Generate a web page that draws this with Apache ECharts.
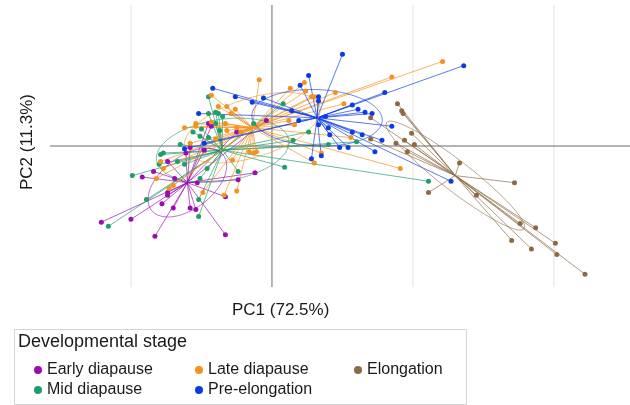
<!DOCTYPE html>
<html>
<head>
<meta charset="utf-8">
<script src="https://cdn.jsdelivr.net/npm/echarts@6/dist/echarts.min.js"></script>
<style>
  html, body { margin: 0; padding: 0; background: #fff; }
  #chart { width: 630px; height: 405px; }
</style>
</head>
<body>
<div id="chart"></div>
<script>
// PCA scores (PC1, PC2)
const groups = ['Early diapause', 'Mid diapause', 'Late diapause', 'Pre-elongation', 'Elongation']
const colors = ['#9a0dae', '#1e9e6b', '#f5921e', '#0a3be6', '#8d6a44']

const earlyPts = [
  [-12.1, -5.4], [-10.0, -5.2], [-8.3, -6.4], [-3.3, -6.3], [-3.3, -3.6], [-5.4, -4.5],
  [-5.8, -4.4], [-7.0, -4.4], [-7.8, -4.1], [-7.4, -3.5], [-7.4, -3.3], [-9.2, -2.2],
  [-8.4, -1.8], [-7.4, -1.1], [-6.9, -2.3], [-5.3, -2.6], [-2.4, -2.4], [-1.2, -1.9],
  [-5.8, -0.1], [-4.8, -0.3], [-4.5, 1.6], [-4.3, 1.4], [-2.5, 1.0], [-0.4, 1.8], [-6.1, -0.5]
]
const midPts = [
  [-11.6, -5.7], [-9.9, -2.1], [-8.9, -3.8], [-5.2, -5.0], [-5.2, -3.8], [-8.0, -1.3],
  [-7.9, -0.6], [-7.7, -0.5], [-6.5, 0.1], [-6.7, -1.1], [-6.2, -1.3], [-2.4, -1.8],
  [-5.1, -2.3], [-4.6, -1.6], [-4.5, 3.5], [-4.5, 2.3], [-4.0, 2.4], [-3.8, 2.3],
  [-3.5, 2.1], [-5.6, 1.0], [-5.0, 1.2], [-5.1, 0.7], [-4.5, 0.6], [-3.7, 1.1],
  [-4.0, 1.6], [0.8, 3.0], [2.6, 1.0], [1.5, 0.4], [4.0, 0.1], [6.0, 0.3],
  [0.9, -1.5], [-1.3, 1.6], [11.1, -2.5]
]
const latePts = [
  [-2.5, -3.2], [-4.9, -3.3], [-8.2, -2.3], [-7.9, -1.1], [-7.7, -1.6], [-5.8, 0.2],
  [-2.8, -1.0], [-7.3, -3.0], [-7.0, -2.8], [-0.9, 4.7], [-4.3, 3.6], [-3.2, 2.8],
  [-2.6, 2.6], [-3.8, 2.8], [-2.9, 2.3], [-6.2, 1.3], [-5.4, 1.6], [-5.4, 1.4],
  [-3.3, 1.6], [-2.5, 1.3], [-3.2, 1.1], [-2.2, 1.0], [-4.0, 0.5], [-1.6, -0.4],
  [-1.1, -0.4], [-4.3, 1.7], [1.3, 4.1], [2.3, 4.5], [2.4, 3.9], [2.8, 3.5],
  [3.0, 3.5], [4.5, 3.8], [5.1, 3.0], [1.2, 1.8], [1.6, 1.5], [5.6, 0.6],
  [3.5, -0.5], [3.0, -1.2], [-1.3, -0.5], [12.1, 6.0], [8.5, 4.9], [9.1, -1.6], [-3.4, -3.5]
]
const prePts = [
  [5.0, 6.5], [2.6, 5.0], [2.0, 4.3], [3.3, 3.5], [3.3, 3.2], [-1.4, 3.1],
  [-0.6, 3.4], [1.4, 2.5], [1.9, 1.8], [3.8, 2.1], [4.0, 1.3], [3.3, 1.5],
  [4.1, 0.8], [5.7, 2.9], [6.1, 2.6], [6.6, 2.4], [5.7, 1.0], [4.8, -0.1],
  [5.4, -0.1], [2.8, -0.9], [3.5, -0.7], [6.4, 0.8], [-4.2, 4.1], [-2.6, 3.5],
  [-5.2, 2.3], [-6.2, -0.2], [-4.8, 0.2], [13.6, 5.7], [8.0, 3.8], [7.1, 2.3],
  [8.5, 1.4], [7.8, 0.4], [7.3, -0.4], [12.7, -2.5]
]
const elongPts = [
  [8.9, 3.0], [9.2, 2.5], [9.3, 2.3], [9.9, 0.9], [9.4, 0.4], [10.1, 0.1],
  [8.8, 0.2], [9.6, -0.4], [13.3, -1.2], [11.1, -3.3], [17.2, -2.6], [14.5, -3.5],
  [17.6, -5.5], [18.7, -5.8], [17.0, -6.7], [18.4, -7.3], [20.1, -6.9], [20.2, -7.7],
  [22.2, -9.1], [7.0, 2.0], [7.0, 0.5]
]
const points = [earlyPts, midPts, latePts, prePts, elongPts]
// group centres the stars radiate from
const centres = [[-6.0, -2.6], [-3.5, -0.3], [-1.4, 1.3], [3.2, 2.0], [13.0, -2.1]]

const xMin = -15.74
const xMax = 25.39
const yMin = -10
const yMax = 10
const gridX = [-10, 10, 20]
const ellipseScale = 1.0

// ellipse around a centre from the covariance of the group
function ellipse (pts, c, k) {
  const n = pts.length
  let mx = 0, my = 0
  pts.forEach(p => { mx += p[0]; my += p[1] })
  mx /= n; my /= n
  let sxx = 0, syy = 0, sxy = 0
  pts.forEach(p => {
    sxx += (p[0] - mx) * (p[0] - mx)
    syy += (p[1] - my) * (p[1] - my)
    sxy += (p[0] - mx) * (p[1] - my)
  })
  sxx /= n - 1; syy /= n - 1; sxy /= n - 1
  const tr = sxx + syy
  const det = sxx * syy - sxy * sxy
  const l1 = tr / 2 + Math.sqrt(tr * tr / 4 - det)
  const l2 = tr / 2 - Math.sqrt(tr * tr / 4 - det)
  const ang = Math.atan2(l1 - sxx, sxy)
  const out = []
  for (let i = 0; i <= 100; i++) {
    const t = i / 100 * Math.PI * 2
    const a = k * Math.sqrt(l1) * Math.cos(t)
    const b = k * Math.sqrt(l2) * Math.sin(t)
    out.push([c[0] + a * Math.cos(ang) - b * Math.sin(ang), c[1] + a * Math.sin(ang) + b * Math.cos(ang)])
  }
  return out
}

const series = []
// light vertical grid lines
gridX.forEach(v => {
  series.push({
    type: 'line', silent: true, z: 0, showSymbol: false,
    lineStyle: { color: '#e3e3e3', width: 1 },
    data: [[v, yMin], [v, yMax]]
  })
})
// zero lines
series.push({
  type: 'line', silent: true, z: 1, showSymbol: false,
  lineStyle: { color: '#6b6b6b', width: 1 },
  data: [[0, yMin], [0, yMax]]
})
series.push({
  type: 'line', silent: true, z: 1, showSymbol: false,
  lineStyle: { color: '#6b6b6b', width: 1 },
  data: [[xMin, 0], [xMax, 0]]
})
groups.forEach((g, i) => {
  series.push({
    type: 'lines',
    coordinateSystem: 'cartesian2d',
    silent: true,
    z: 2,
    lineStyle: { color: colors[i], width: 1, opacity: 0.68 },
    data: points[i].map(p => ({ coords: [centres[i], p] }))
  })
})
groups.forEach((g, i) => {
  series.push({
    type: 'line',
    silent: true,
    z: 3,
    showSymbol: false,
    lineStyle: { color: colors[i], width: 1, opacity: 0.6 },
    data: ellipse(points[i], centres[i], ellipseScale)
  })
})
groups.forEach((g, i) => {
  series.push({
    name: g,
    type: 'scatter',
    z: 4,
    symbolSize: 5,
    itemStyle: { color: colors[i], opacity: 1 },
    data: points[i]
  })
})

const legendPos = [[29, 357], [29, 377], [190, 357], [190, 377], [349, 357]]
const legends = groups.map((g, i) => ({
  left: legendPos[i][0],
  top: legendPos[i][1],
  icon: 'circle',
  itemWidth: 8,
  itemHeight: 8,
  itemGap: 4,
  selectedMode: false,
  textStyle: { fontSize: 16, color: '#1a1a1a', fontFamily: 'Liberation Sans, Arial, sans-serif' },
  data: [{ name: g, itemStyle: { color: colors[i] } }]
}))

const chart = echarts.init(document.getElementById('chart'))
chart.setOption({
  animation: false,
  backgroundColor: '#fff',
  textStyle: { fontFamily: 'Liberation Sans, Arial, sans-serif' },
  grid: { left: 50, right: 0, top: 5, bottom: 118 },
  xAxis: {
    type: 'value', min: xMin, max: xMax,
    axisLine: { show: false }, axisTick: { show: false }, axisLabel: { show: false }, splitLine: { show: false }
  },
  yAxis: {
    type: 'value', min: yMin, max: yMax,
    axisLine: { show: false }, axisTick: { show: false }, axisLabel: { show: false }, splitLine: { show: false }
  },
  legend: legends,
  graphic: [
    {
      type: 'rect', left: 12, top: 327, silent: true,
      shape: { width: 452, height: 75 },
      style: { fill: 'none', stroke: '#d4d4d4', lineWidth: 1 }
    },
    {
      type: 'text', left: 18, top: 333,
      style: { text: 'Developmental stage', fontSize: 18, fill: '#1a1a1a', fontFamily: 'Liberation Sans, Arial, sans-serif' }
    },
    {
      type: 'text', left: 232, top: 302,
      style: { text: 'PC1 (72.5%)', fontSize: 17, fill: '#1a1a1a', fontFamily: 'Liberation Sans, Arial, sans-serif' }
    },
    {
      type: 'text', left: 19, top: 94, rotation: Math.PI / 2,
      style: { text: 'PC2 (11.3%)', fontSize: 17, fill: '#1a1a1a', fontFamily: 'Liberation Sans, Arial, sans-serif' }
    }
  ],
  series: series
})
</script>
</body>
</html>
